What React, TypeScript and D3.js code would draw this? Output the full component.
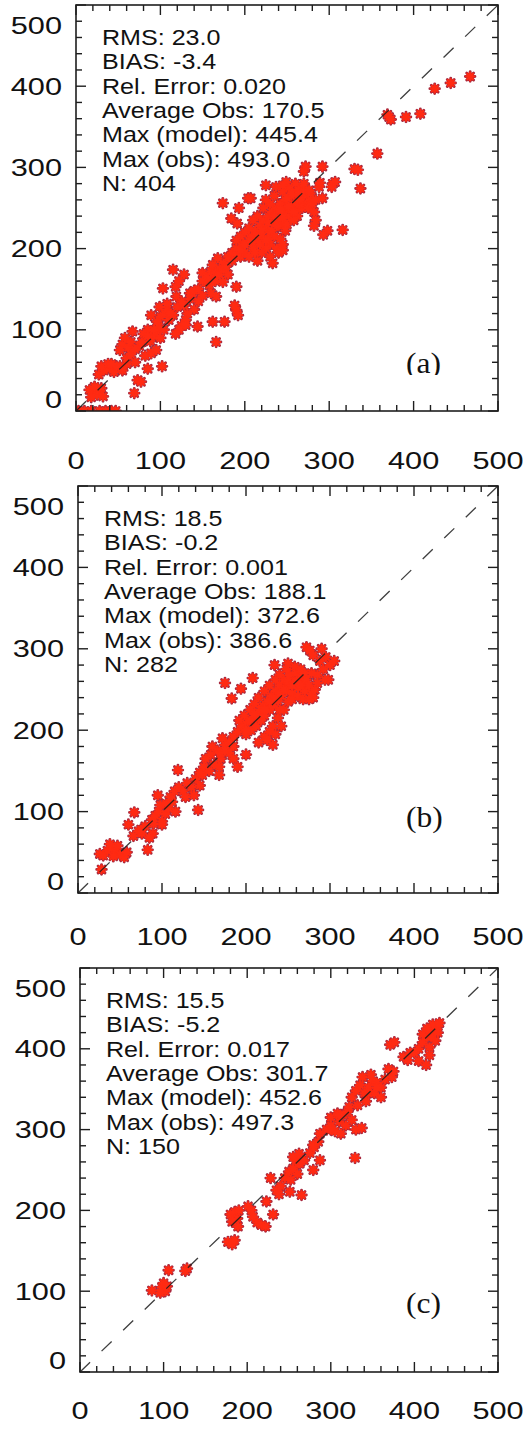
import React from "react";
import * as d3 from "d3";

const W = 527;
const H = 1430;

const tickValues = [0, 100, 200, 300, 400, 500];

const statsA = ["RMS: 23.0", "BIAS: -3.4", "Rel. Error: 0.020", "Average Obs: 170.5", "Max (model): 445.4", "Max (obs): 493.0", "N: 404"];
const statsB = ["RMS: 18.5", "BIAS: -0.2", "Rel. Error: 0.001", "Average Obs: 188.1", "Max (model): 372.6", "Max (obs): 386.6", "N: 282"];
const statsC = ["RMS: 15.5", "BIAS: -5.2", "Rel. Error: 0.017", "Average Obs: 301.7", "Max (model): 452.6", "Max (obs): 497.3", "N: 150"];

// [obs, model]
const pointsA: [number, number][] = [
  [3, 0], [10, 0], [18, 0], [28, 0], [35, 0], [42, 0], [47, 0],
  [16, 26], [20, 22], [25, 20], [28, 25], [32, 18], [22, 30], [18, 17], [30, 28],
  [27, 45], [33, 50], [40, 52], [45, 48], [52, 55], [60, 58], [70, 60], [30, 55], [38, 58], [55, 50],
  [48, 55], [42, 58], [60, 65], [65, 70], [75, 80], [78, 85],
  [55, 82], [58, 90], [62, 78], [65, 85], [70, 76], [52, 75],
  [67, 98], [69, 22], [77, 36], [73, 38], [85, 52], [102, 55],
  [92, 92], [96, 98], [100, 90], [88, 86], [104, 100], [98, 104], [85, 100], [80, 95], [92, 100], [85, 92],
  [89, 71], [95, 75], [82, 68],
  [100, 116], [105, 120], [110, 112], [96, 110], [108, 125], [115, 118], [99, 128], [108, 132], [89, 118],
  [112, 120], [120, 128], [125, 135],
  [115, 174], [128, 168], [103, 151], [118, 153], [122, 160], [119, 141],
  [128, 130], [135, 138], [140, 125], [145, 135], [132, 120], [150, 142], [138, 145], [130, 112], [125, 105],
  [135, 145], [140, 148], [145, 150], [155, 158], [160, 162],
  [130, 106], [122, 100], [118, 95], [144, 104], [162, 110], [166, 85], [176, 110],
  [190, 124], [188, 130], [192, 118], [150, 170],
  [155, 165], [160, 172], [165, 160], [170, 175], [175, 182], [158, 155], [168, 188], [180, 168], [162, 180], [150, 160],
  [165, 170], [170, 168], [175, 175], [178, 178], [185, 185],
  [166, 141], [160, 145], [190, 153], [174, 159],
  [174, 256], [193, 250], [184, 237], [191, 231], [207, 262], [225, 278],
  [180, 190], [185, 195], [190, 200], [195, 190], [198, 205], [200, 195], [205, 210], [210, 200], [208, 215], [212, 222],
  [215, 210], [218, 228], [220, 215], [222, 235], [225, 225], [228, 240], [230, 220], [232, 245], [235, 232], [238, 250],
  [240, 238], [242, 255], [245, 245], [248, 260], [250, 250], [252, 240], [255, 265], [258, 255], [260, 270], [262, 248],
  [265, 260], [268, 275], [270, 265], [272, 255], [275, 270], [240, 228], [230, 205], [225, 200], [245, 230], [250, 230],
  [235, 215], [220, 195], [215, 185], [228, 212], [255, 248], [262, 240], [268, 250], [275, 250], [278, 260], [280, 255],
  [282, 245], [258, 235], [248, 222], [242, 212], [238, 200], [245, 205], [230, 255], [225, 260], [222, 250], [215, 240],
  [210, 235], [205, 225], [200, 220], [195, 215], [190, 210], [235, 265], [245, 270], [252, 275], [260, 280],
  [190, 192], [195, 198], [200, 205], [205, 190], [208, 208], [212, 195], [215, 218], [218, 205], [220, 222], [225, 210],
  [228, 232], [232, 222], [235, 240], [238, 228], [242, 248], [245, 238], [250, 262], [252, 252], [256, 268], [258, 245],
  [264, 272], [265, 255], [270, 270], [270, 280], [278, 268],
  [284, 235], [282, 228], [233, 182], [230, 190], [240, 195], [245, 198], [249, 282], [237, 276], [245, 278], [264, 266], [204, 262],
  [272, 301], [270, 295], [292, 301], [288, 276], [304, 280], [298, 222], [316, 223], [293, 217], [276, 272], [284, 260],
  [307, 282], [303, 276], [289, 281], [292, 262], [265, 260],
  [334, 297], [330, 298], [337, 274], [357, 317], [371, 362], [369, 365], [373, 359], [391, 362], [408, 366],
  [425, 397], [444, 404], [467, 412],
];

const pointsB: [number, number][] = [
  [28, 29],
  [26, 48], [30, 46], [35, 52], [40, 55], [45, 50], [50, 47], [55, 44], [42, 45], [58, 50], [38, 60], [47, 58],
  [83, 53], [66, 70], [72, 76], [76, 73], [60, 84], [67, 99], [89, 73], [85, 68], [75, 78], [80, 82],
  [88, 90], [92, 95], [96, 100], [100, 88], [104, 97], [98, 108], [108, 104], [95, 120], [112, 112], [100, 84], [90, 85], [116, 100],
  [105, 110], [110, 118], [115, 125], [120, 130],
  [119, 151],
  [125, 125], [130, 135], [135, 130], [140, 140], [145, 132], [138, 120], [128, 118], [148, 145], [145, 148], [150, 155],
  [143, 102],
  [152, 165], [158, 170], [162, 158], [166, 175], [170, 165], [175, 182], [180, 172], [160, 180], [156, 150], [172, 190], [168, 155], [185, 180],
  [170, 172], [175, 175], [180, 185],
  [168, 145], [190, 155], [185, 165],
  [175, 258], [183, 239], [194, 251], [200, 170], [208, 264], [232, 182], [234, 280], [250, 282],
  [185, 192], [190, 198], [195, 205], [200, 195], [202, 210], [206, 200], [210, 215], [212, 205], [215, 222], [218, 212],
  [220, 230], [222, 218], [225, 235], [228, 225], [230, 242], [232, 230], [235, 248], [238, 236], [240, 255], [242, 242],
  [245, 262], [248, 248], [250, 255], [252, 268], [255, 245], [258, 260], [260, 270], [262, 252], [265, 265], [268, 258],
  [270, 248], [272, 262], [275, 255], [278, 245], [280, 240], [282, 250], [285, 258], [250, 235], [245, 225], [238, 215],
  [232, 205], [228, 198], [222, 192], [240, 225], [255, 238], [262, 242], [268, 238], [275, 238], [248, 275], [240, 268],
  [235, 262], [228, 255], [222, 248], [215, 240], [210, 232], [205, 225], [198, 218], [192, 212], [258, 278], [265, 275],
  [242, 205], [235, 195], [225, 188], [215, 185],
  [200, 200], [205, 212], [210, 220], [218, 225], [222, 225], [228, 235], [235, 240], [240, 245], [245, 250], [250, 260],
  [255, 255], [260, 260], [265, 255], [270, 270],
  [272, 302], [276, 298], [290, 300], [295, 290], [288, 285], [300, 280], [305, 285], [292, 275], [298, 262], [285, 268], [280, 292],
  [294, 262], [278, 270],
];

const pointsC: [number, number][] = [
  [86, 101], [98, 105], [100, 110], [102, 100], [96, 98], [104, 106], [106, 126], [128, 128], [126, 125],
  [177, 161], [182, 158], [185, 163], [180, 195], [185, 198], [188, 190], [182, 186], [190, 200], [189, 180],
  [201, 205], [205, 200], [207, 192], [212, 185], [217, 182], [222, 180], [223, 211], [231, 195], [228, 240],
  [235, 225], [240, 230], [238, 220], [251, 223], [265, 219],
  [245, 240], [250, 248], [255, 252], [260, 245], [252, 238], [262, 258], [258, 262],
  [255, 266], [262, 270], [263, 258], [268, 262], [279, 250], [287, 262], [275, 271], [280, 278], [279, 281], [285, 285], [287, 295],
  [295, 300], [300, 305], [305, 298], [310, 310], [315, 318], [320, 322], [308, 320], [300, 315], [318, 305], [325, 312],
  [330, 300], [312, 295], [322, 328], [329, 265], [337, 302], [300, 300], [310, 318],
  [325, 340], [330, 348], [335, 355], [340, 345], [345, 352], [350, 360], [355, 358], [360, 352], [365, 362], [342, 335],
  [332, 330], [352, 345], [338, 365], [360, 340], [348, 368], [345, 345], [355, 352],
  [373, 365], [375, 372], [369, 375], [371, 405], [376, 408], [387, 390], [392, 386], [395, 395],
  [400, 395], [405, 400], [410, 408], [415, 415], [420, 420], [425, 425], [428, 428], [422, 430], [415, 425], [410, 418],
  [418, 402], [425, 410], [430, 432], [405, 385], [414, 380], [418, 392], [420, 415], [428, 420],
];

const panels = [
  { key: "a", label: "(a)", stats: statsA, points: pointsA, top: 5, bottom: 411, left: 76, right: 498, xLabelDy: 49, labelY: 373, labelClip: 375 },
  { key: "b", label: "(b)", stats: statsB, points: pointsB, top: 486, bottom: 893, left: 78, right: 498, xLabelDy: 43, labelY: 827, labelClip: null },
  { key: "c", label: "(c)", stats: statsC, points: pointsC, top: 968, bottom: 1372, left: 80, right: 498, xLabelDy: 38, labelY: 1313, labelClip: null },
];

const sans = "'Liberation Sans', Arial, Helvetica, sans-serif";
const serif = "'Liberation Serif', 'Times New Roman', serif";
const ink = "#1e1e1e";

const star = (r: number) => {
  const d = r * 0.72;
  return `M${-r},0H${r}M0,${-r}V${r}M${-d},${-d}L${d},${d}M${-d},${d}L${d},${-d}`;
};

function Panel({ p }: { p: any }) {
  const x = d3.scaleLinear().domain([0, 500]).range([p.left, p.right]);
  const y = d3.scaleLinear().domain([0, 500]).range([p.bottom, p.top]);
  const minor = x.ticks(20);
  const clipId = `clip-${p.key}`;
  const labClipId = `labclip-${p.key}`;
  const marker = star(4.8);

  // end labels sit a bit inside the frame in the original
  const yNudge = (v: number) => (v === 500 ? 20 : v === 0 ? -12 : 0);

  return (
    <g>
      <defs>
        <clipPath id={clipId}>
          <rect x={p.left} y={p.top} width={p.right - p.left} height={p.bottom - p.top} />
        </clipPath>
        {p.labelClip && (
          <clipPath id={labClipId}>
            <rect x={p.left} y={p.top} width={p.right - p.left} height={p.labelClip - p.top} />
          </clipPath>
        )}
      </defs>

      <g clipPath={`url(#${clipId})`}>
        {p.points.map((d: [number, number], i: number) => (
          <path key={"o" + i} d={marker} transform={`translate(${x(d[0])},${y(d[1])})`}
            stroke="#a82a40" strokeWidth={2.9} fill="none" strokeLinecap="round" />
        ))}
        {p.points.map((d: [number, number], i: number) => (
          <path key={"i" + i} d={marker} transform={`translate(${x(d[0])},${y(d[1])})`}
            stroke="#ff2a12" strokeWidth={2.2} fill="none" />
        ))}
      </g>

      <line x1={x(0)} y1={y(0)} x2={x(500)} y2={y(500)} stroke={ink} strokeWidth={1.3}
        strokeDasharray="14 16" opacity={0.85} />

      {minor.map((t) => {
        const len = t % 100 === 0 ? 10 : 6;
        return (
          <g key={"t" + t} stroke={ink} strokeWidth={1.4}>
            <line x1={x(t)} x2={x(t)} y1={p.bottom} y2={p.bottom - len} />
            <line x1={x(t)} x2={x(t)} y1={p.top} y2={p.top + len} />
            <line y1={y(t)} y2={y(t)} x1={p.left} x2={p.left + len} />
            <line y1={y(t)} y2={y(t)} x1={p.right} x2={p.right - len} />
          </g>
        );
      })}

      <rect x={p.left} y={p.top} width={p.right - p.left} height={p.bottom - p.top}
        fill="none" stroke={ink} strokeWidth={1.6} />

      {tickValues.map((t) => (
        <g key={"yl" + t} transform={`translate(${p.left - 14},${y(t) + yNudge(t)}) scale(1.28,1)`}>
          <text textAnchor="end" dy="0.36em" fontFamily={sans} fontSize={24} fill="#111">{t}</text>
        </g>
      ))}
      {tickValues.map((t) => (
        <g key={"xl" + t} transform={`translate(${x(t)},${p.bottom + p.xLabelDy}) scale(1.28,1)`}>
          <text textAnchor="middle" dy="0.36em" fontFamily={sans} fontSize={24} fill="#111">{t}</text>
        </g>
      ))}

      {p.stats.map((s: string, i: number) => (
        <g key={"s" + i} transform={`translate(${p.left + 26},${p.top + 40 + i * 24.3}) scale(1.14,1)`}>
          <text fontFamily={sans} fontSize={22} fill="#111">{s}</text>
        </g>
      ))}

      <g clipPath={p.labelClip ? `url(#${labClipId})` : undefined}>
        <g transform={`translate(406,${p.labelY}) scale(1.05,1)`}>
          <text fontFamily={serif} fontSize={30} fill="#111">{p.label}</text>
        </g>
      </g>
    </g>
  );
}

export default function App() {
  return (
    <svg width={W} height={H} viewBox={`0 0 ${W} ${H}`}
      style={{ position: "absolute", left: 0, top: 0, background: "#fff" }}>
      <rect width={W} height={H} fill="#fff" />
      {panels.map((p) => (
        <Panel key={p.key} p={p} />
      ))}
    </svg>
  );
}
